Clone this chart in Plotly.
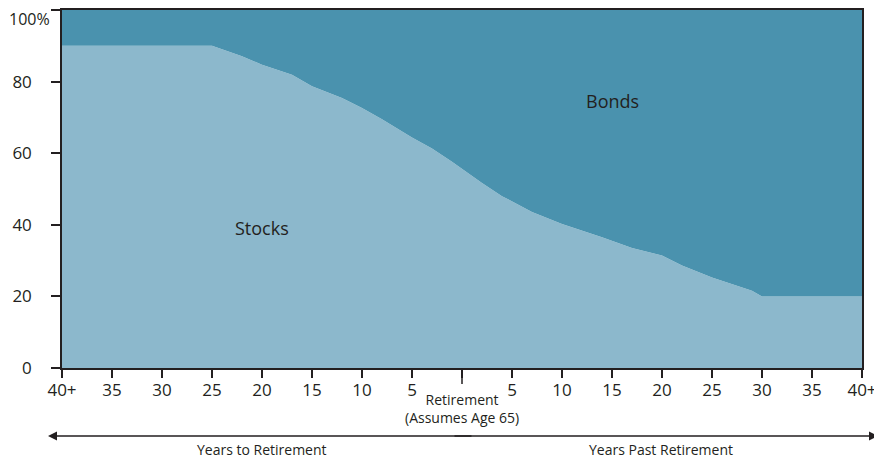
import plotly.graph_objects as go

years = [-40, -25, -22, -20, -17, -15, -12, -10, -8, -5, -3, -1, 2, 4, 7, 10, 14, 17, 20, 22, 25, 29, 30, 40]
stocks = [90, 90, 87.1, 84.7, 81.9, 78.7, 75.4, 72.6, 69.5, 64.4, 61.3, 57.6, 51.7, 48.0, 43.6, 40.2, 36.5, 33.5, 31.4, 28.6, 25.3, 21.6, 20.0, 20.0]
bonds = [round(100 - s, 2) for s in stocks]

tick_vals = [-40, -35, -30, -25, -20, -15, -10, -5, 0, 5, 10, 15, 20, 25, 30, 35, 40]
tick_text = ["40+", "35", "30", "25", "20", "15", "10", "5", "", "5", "10", "15", "20", "25", "30", "35", "40+"]
y_vals = [0, 20, 40, 60, 80, 100]
y_text = ["0", "20", "40", "60", "80", ""]
y_top_label = "100%"

STOCK_C = "#8CB8CC"
BOND_C = "#4A92AE"
INK = "#231F20"
FONT = "Open Sans"

fig = go.Figure()
fig.add_trace(go.Scatter(x=years, y=stocks, mode="lines", stackgroup="a",
                         line=dict(width=0, color=STOCK_C), fillcolor=STOCK_C,
                         name="Stocks", hoverinfo="skip"))
fig.add_trace(go.Scatter(x=years, y=bonds, mode="lines", stackgroup="a",
                         line=dict(width=0, color=BOND_C), fillcolor=BOND_C,
                         name="Bonds", hoverinfo="skip"))

# page body has an 8px margin, so the figure is sized to fit the window
fig.update_layout(
    width=874, height=452,
    margin=dict(l=54, r=20, t=2, b=92, autoexpand=False),
    paper_bgcolor="white", plot_bgcolor="white",
    showlegend=False,
    font=dict(family=FONT, size=16, color=INK),
    xaxis=dict(range=[-40, 40], tickvals=tick_vals, ticktext=tick_text,
               ticks="outside", ticklen=8, tickwidth=1.5, tickcolor=INK,
               showline=True, linecolor=INK, linewidth=1.5, mirror=True,
               showgrid=False, zeroline=False, automargin=False,
               ticklabeloverflow="allow", ticklabelstandoff=-2,
               tickfont=dict(size=17, color=INK)),
    yaxis=dict(range=[0, 100], tickvals=y_vals, ticktext=y_text,
               ticks="outside", ticklen=9, tickwidth=1.5, tickcolor=INK,
               showline=True, linecolor=INK, linewidth=1.5, mirror=True,
               showgrid=False, zeroline=False, automargin=False,
               ticklabeloverflow="allow", ticklabelstandoff=16,
               tickfont=dict(size=17, color=INK)),
)

# top y label, with the % hanging past the number column (kept inside the page)
fig.add_annotation(x=-0.0675, y=100, xref="paper", yref="y", xanchor="left", yanchor="middle",
                   yshift=-9, text=y_top_label, showarrow=False, borderpad=0,
                   font=dict(size=16, color=INK))

# long tick for retirement
fig.add_shape(type="line", xref="x", yref="paper", x0=0, x1=0, y0=0, y1=-0.045,
              line=dict(color=INK, width=1.5))

fig.add_annotation(x=0, y=-0.057, xref="x", yref="paper", xanchor="center", yanchor="top",
                   text="Retirement<br>(Assumes Age 65)", showarrow=False,
                   font=dict(size=14, color=INK), align="center")

fig.add_annotation(x=-20, y=39, xref="x", yref="y", text="Stocks", showarrow=False,
                   font=dict(size=18, color=INK))
fig.add_annotation(x=15, y=74.6, xref="x", yref="y", text="Bonds", showarrow=False,
                   font=dict(size=18, color=INK))

# bottom double arrow (two overlapping halves)
fig.add_annotation(x=-0.0175, y=-0.19, xref="paper", yref="paper", text="",
                   showarrow=True, ax=425, ay=0, arrowhead=2, arrowsize=1.2,
                   arrowwidth=1.5, arrowcolor=INK)
fig.add_annotation(x=1.02, y=-0.19, xref="paper", yref="paper", text="",
                   showarrow=True, ax=-425, ay=0, arrowhead=2, arrowsize=1.2,
                   arrowwidth=1.5, arrowcolor=INK)

fig.add_annotation(x=0.25, y=-0.229, xref="paper", yref="paper", xanchor="center", yanchor="middle",
                   text="Years to Retirement", showarrow=False, font=dict(size=14, color=INK))
fig.add_annotation(x=0.749, y=-0.229, xref="paper", yref="paper", xanchor="center", yanchor="middle",
                   text="Years Past Retirement", showarrow=False, font=dict(size=14, color=INK))

fig.write_html("out.html")
